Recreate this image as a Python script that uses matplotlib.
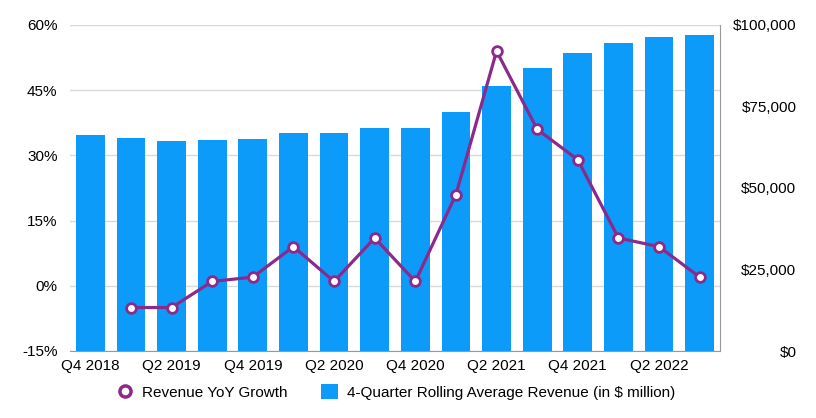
import numpy as np
import matplotlib.pyplot as plt
from matplotlib.lines import Line2D
from matplotlib.patches import Patch

plt.rcParams['font.family'] = ['Liberation Sans', 'DejaVu Sans']

# quarters Q4 2018 .. Q3 2022
quarters = ['Q4 2018', 'Q1 2019', 'Q2 2019', 'Q3 2019', 'Q4 2019', 'Q1 2020',
            'Q2 2020', 'Q3 2020', 'Q4 2020', 'Q1 2021', 'Q2 2021', 'Q3 2021',
            'Q4 2021', 'Q1 2022', 'Q2 2022', 'Q3 2022']
# 4-quarter rolling average revenue, $ million
revenue = [66300, 65300, 64400, 64700, 65000, 66900, 66900, 68400,
           68400, 73300, 81300, 86800, 91400, 94500, 96300, 96900]
# YoY growth in %, no value for Q4 2018
growth = [np.nan, -5, -5, 1, 2, 9, 1, 11, 1, 21, 54, 36, 29, 11, 9, 2]

bar_color = '#0c9bf8'
line_color = '#8b2a8b'

fig = plt.figure(figsize=(8.16, 4.18), dpi=100)
ax = fig.add_axes([70 / 816, 1 - 351 / 418, 650 / 816, 326 / 418])
ax_bar = ax.twinx()
ax_line = ax.twinx()

x = np.arange(len(quarters))

# left axis: grid + percent ticks
ax.set_ylim(-15, 60)
ax.set_yticks([-15, 0, 15, 30, 45, 60])
ax.set_yticklabels(['-15%', '0%', '15%', '30%', '45%', '60%'])
ax.grid(axis='y', color='#d9d9d9', linewidth=1)
ax.set_axisbelow(True)
ax.tick_params(axis='y', length=0, pad=9, labelsize=11)
ax.set_xlim(-0.5, len(quarters) - 0.5)
ax.set_xticks(x[::2])
ax.set_xticklabels(quarters[::2])
ax.tick_params(axis='x', length=0, pad=6, labelsize=11)

# bars on right axis
ax_bar.bar(x, revenue, width=0.71, color=bar_color)
ax_bar.set_ylim(0, 100000)
ax_bar.set_yticks([0, 25000, 50000, 75000, 100000])
ax_bar.set_yticklabels(['$0', '$25,000', '$50,000', '$75,000', '$100,000'])
ax_bar.tick_params(axis='y', length=0, pad=55, labelsize=11)
for lab in ax_bar.get_yticklabels():
    lab.set_horizontalalignment('right')

# growth line, same scale as the left axis
ax_line.set_ylim(-15, 60)
ax_line.plot(x, growth, color=line_color, linewidth=2.3, marker='o',
             markersize=7, markerfacecolor='white', markeredgecolor=line_color,
             markeredgewidth=2)
ax_line.set_yticks([])

for a in (ax, ax_bar, ax_line):
    a.spines['top'].set_visible(False)
    a.spines['left'].set_visible(False)
    a.spines['right'].set_visible(False)
    a.spines['bottom'].set_visible(False)
ax_bar.spines['right'].set_visible(True)
ax_bar.spines['right'].set_color('#999999')
ax.spines['bottom'].set_visible(True)
ax.spines['bottom'].set_color('#999999')

handles = [Line2D([], [], linestyle='none', marker='o', markersize=8,
                  markerfacecolor='white', markeredgecolor=line_color,
                  markeredgewidth=2.5),
           Patch(facecolor=bar_color)]
labels = ['Revenue YoY Growth', '4-Quarter Rolling Average Revenue (in $ million)']
fig.legend(handles, labels, loc='center', bbox_to_anchor=(396 / 816, 1 - 392 / 418),
           ncol=2, frameon=False, fontsize=11, handlelength=1.1,
           handleheight=1.1, columnspacing=2.2, handletextpad=0.6)

fig.savefig('out.png', dpi=100)
